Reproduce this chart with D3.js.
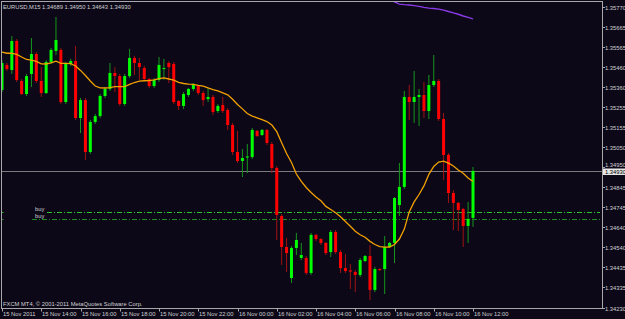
<!DOCTYPE html>
<html>
<head>
<meta charset="utf-8">
<script src="https://cdn.jsdelivr.net/npm/d3@7/dist/d3.min.js"></script>
<style>
  body { margin: 0; background: #0c0818; }
  svg { display: block; }
  text { font-family: "Liberation Sans", Arial, sans-serif; font-size: 5.8px; fill: #d0d0d0; }
</style>
</head>
<body>
<div id="chart"></div>
<script>
// EURUSD M15 candles, 15 Nov 2011 12:00 .. 16 Nov 2011 12:00
var open = [
  1.35345,1.35473,1.35447,1.35596,1.35391,1.35324,1.35427,1.35529,1.35391,1.35329,
  1.35488,1.35545,1.35550,1.35283,1.35478,1.35493,1.35201,1.35293,1.35027,1.35181,
  1.35211,1.35314,1.35350,1.35432,1.35416,1.35273,1.35416,1.35509,1.35483,1.35457,
  1.35401,1.35365,1.35396,1.35452,1.35483,1.35478,1.35288,1.35263,1.35319,1.35350,
  1.35365,1.35329,1.35298,1.35309,1.35237,1.35268,1.35242,1.35165,1.35027,1.34981,
  1.34999,1.35001,1.35135,1.35114,1.35140,1.35068,1.34945,1.34699,1.34540,1.34381,
  1.34535,1.34484,1.34484,1.34407,1.34602,1.34581,1.34561,1.34514,1.34617,1.34514,
  1.34432,1.34420,1.34412,1.34397,1.34468,1.34494,1.34320,1.34427,1.34427,1.34540,
  1.34561,1.34755,1.34848,1.35309,1.35283,1.35309,1.35319,1.35237,1.35370,1.35391,
  1.35196,1.35012,1.34817,1.34766,1.34735,1.34648,1.34689];
var high = [
  1.35498,1.35483,1.35621,1.35606,1.35401,1.35427,1.35611,1.35539,1.35462,1.35498,
  1.35560,1.35719,1.35560,1.35488,1.35504,1.35570,1.35304,1.35304,1.35191,1.35222,
  1.35324,1.35360,1.35483,1.35462,1.35427,1.35427,1.35555,1.35519,1.35509,1.35468,
  1.35406,1.35406,1.35514,1.35504,1.35493,1.35488,1.35293,1.35334,1.35355,1.35380,
  1.35370,1.35340,1.35355,1.35319,1.35273,1.35309,1.35252,1.35176,1.35135,1.35042,
  1.35068,1.35150,1.35140,1.35145,1.35145,1.35078,1.34955,1.34709,1.34586,1.34545,
  1.34612,1.34561,1.34494,1.34612,1.34607,1.34586,1.34566,1.34627,1.34627,1.34525,
  1.34504,1.34453,1.34422,1.34484,1.34499,1.34550,1.34438,1.34432,1.34596,1.34566,
  1.34796,1.34971,1.35340,1.35370,1.35442,1.35350,1.35386,1.35422,1.35524,1.35401,
  1.35227,1.35022,1.34832,1.34771,1.34740,1.34771,1.34950];
var low = [
  1.35334,1.35442,1.35427,1.35386,1.35319,1.35314,1.35360,1.35380,1.35309,1.35324,
  1.35478,1.35524,1.35273,1.35273,1.35468,1.35191,1.35124,1.34986,1.35017,1.35170,
  1.35201,1.35304,1.35340,1.35334,1.35263,1.35263,1.35406,1.35422,1.35396,1.35391,
  1.35355,1.35355,1.35386,1.35396,1.35380,1.35273,1.35242,1.35247,1.35309,1.35340,
  1.35319,1.35263,1.35283,1.35216,1.35227,1.35227,1.35140,1.35012,1.34971,1.34899,
  1.34919,1.34991,1.35104,1.35109,1.35063,1.34919,1.34576,1.34448,1.34412,1.34356,
  1.34499,1.34473,1.34397,1.34397,1.34571,1.34550,1.34499,1.34489,1.34504,1.34407,
  1.34407,1.34325,1.34309,1.34386,1.34463,1.34268,1.34309,1.34417,1.34299,1.34535,
  1.34458,1.34699,1.34837,1.35191,1.35176,1.35160,1.35201,1.35196,1.35360,1.35186,
  1.34883,1.34766,1.34627,1.34622,1.34540,1.34561,1.34643];
var close = [
  1.35483,1.35452,1.35596,1.35396,1.35324,1.35416,1.35529,1.35391,1.35329,1.35488,
  1.35550,1.35601,1.35283,1.35478,1.35493,1.35201,1.35293,1.35027,1.35181,1.35211,
  1.35314,1.35350,1.35432,1.35416,1.35273,1.35416,1.35509,1.35483,1.35462,1.35401,
  1.35365,1.35396,1.35473,1.35457,1.35462,1.35283,1.35263,1.35324,1.35350,1.35375,
  1.35329,1.35293,1.35309,1.35232,1.35263,1.35237,1.35165,1.35027,1.34981,1.34996,
  1.35004,1.35140,1.35109,1.35140,1.35073,1.34945,1.34704,1.34540,1.34509,1.34535,
  1.34576,1.34499,1.34407,1.34602,1.34581,1.34561,1.34509,1.34617,1.34514,1.34432,
  1.34417,1.34414,1.34397,1.34473,1.34494,1.34320,1.34427,1.34422,1.34540,1.34561,
  1.34791,1.34848,1.35309,1.35283,1.35309,1.35319,1.35237,1.35370,1.35391,1.35196,
  1.35012,1.34817,1.34766,1.34730,1.34648,1.34684,1.34930];

// orange moving average, one value per bar
var ma = [
  1.35539,1.35533,1.35533,1.35527,1.35514,1.35501,1.35498,1.35491,1.35479,1.35478,
  1.35484,1.35492,1.35481,1.35481,1.35480,1.35468,1.35445,1.35419,1.35391,1.35365,
  1.35356,1.35355,1.35357,1.35362,1.35362,1.35362,1.35373,1.35383,1.35390,1.35392,
  1.35393,1.35397,1.35403,1.35407,1.35401,1.35395,1.35384,1.35378,1.35375,1.35373,
  1.35368,1.35364,1.35355,1.35347,1.35340,1.35330,1.35320,1.35297,1.35270,1.35248,
  1.35224,1.35211,1.35202,1.35193,1.35183,1.35165,1.35131,1.35074,1.35019,1.34973,
  1.34914,1.34876,1.34845,1.34819,1.34796,1.34777,1.34748,1.34732,1.34716,1.34695,
  1.34671,1.34646,1.34621,1.34603,1.34590,1.34569,1.34553,1.34542,1.34539,1.34540,
  1.34553,1.34581,1.34632,1.34719,1.34771,1.34809,1.34853,1.34912,1.34953,1.34975,
  1.34980,1.34970,1.34955,1.34935,1.34918,1.34894,1.34876];

// purple line, only visible near the top from bar 79 on
var slowStart = 79;
var slow = [1.35810,1.35796,1.35785,1.35782,1.35780,1.35777,1.35773,1.35768,1.35764,
  1.35762,1.35759,1.35754,1.35747,1.35740,1.35733,1.35724,1.35717,1.35709];

var buyLevels = [1.34718, 1.34682];
var bid = 1.34930;

var priceTicks = ["1.35770","1.35665","1.35565","1.35460","1.35360","1.35255","1.35155","1.35050",
  "1.34950","1.34845","1.34745","1.34640","1.34540","1.34435","1.34335","1.34230"];
var timeTickBars = [0, 8, 16, 24, 32, 40, 48, 56, 64, 72, 80, 88, 96];
var timeTickLabels = ["15 Nov 2011","15 Nov 14:00","15 Nov 16:00","15 Nov 18:00","15 Nov 20:00",
  "15 Nov 22:00","16 Nov 00:00","16 Nov 02:00","16 Nov 04:00","16 Nov 06:00","16 Nov 08:00",
  "16 Nov 10:00","16 Nov 12:00"];

var W = 625, H = 319;
// plot frame edges (names avoid window.top)
var fL = 1.5, fT = 1.5, fR = 602.5, fB = 308.5;

var svg = d3.select('#chart').append('svg').attr('width', W).attr('height', H);
svg.append('rect').attr('width', W).attr('height', H).attr('fill', '#0c0818');

var x = d3.scaleLinear().domain([0, 96]).range([2, 473]);
var y = d3.scaleLinear().domain([1.34230, 1.35770]).range([307.5, 7]);

svg.append('clipPath').attr('id', 'plot')
  .append('rect').attr('x', fL).attr('y', fT).attr('width', fR - fL).attr('height', fB - fT);
var plot = svg.append('g').attr('clip-path', 'url(#plot)');

// bid line
var by = Math.round(y(bid)) + 0.5;
plot.append('line')
  .attr('x1', fL).attr('x2', fR).attr('y1', by).attr('y2', by)
  .attr('stroke', '#7a7a7a').attr('stroke-width', 1);

// buy lines
var buyColors = ['#2fc02f', '#1e8e1e'];
var buyStart = [47, 32];
buyLevels.forEach(function(v, k) {
  var yy = Math.round(y(v)) + 0.5;
  plot.append('line').attr('x1', 1.5).attr('x2', 3.5).attr('y1', yy).attr('y2', yy)
    .attr('stroke', buyColors[k]);
  plot.append('line').attr('x1', buyStart[k]).attr('x2', 600).attr('y1', yy).attr('y2', yy)
    .attr('stroke', buyColors[k]).attr('stroke-dasharray', '5,2,1,2');
  svg.append('text').attr('x', 35).attr('y', yy - 2).text('buy');
});

// candles
var bars = d3.range(open.length);
var up = function(i) { return close[i] >= open[i]; };

plot.selectAll('line.wick').data(bars).enter().append('line')
  .attr('class', 'wick')
  .attr('x1', function(i) { return x(i); }).attr('x2', function(i) { return x(i); })
  .attr('y1', function(i) { return y(high[i]); }).attr('y2', function(i) { return y(low[i]); })
  .attr('stroke', function(i) { return up(i) ? '#15951a' : '#a01212'; })
  .attr('stroke-width', 1);

plot.selectAll('rect.body').data(bars).enter().append('rect')
  .attr('class', 'body')
  .attr('x', function(i) { return x(i) - 1.5; })
  .attr('width', 3)
  .attr('y', function(i) { return y(Math.max(open[i], close[i])); })
  .attr('height', function(i) { return Math.max(1, Math.abs(y(open[i]) - y(close[i]))); })
  .attr('fill', function(i) { return up(i) ? '#00ff00' : '#ff0000'; });

// moving averages
var line = d3.line().x(function(d) { return x(d[0]); }).y(function(d) { return y(d[1]); });
plot.append('path')
  .datum(ma.map(function(v, i) { return [i, v]; }))
  .attr('d', line).attr('fill', 'none').attr('stroke', '#f2a000').attr('stroke-width', 1.3);
plot.append('path')
  .datum(slow.map(function(v, k) { return [slowStart + k, v]; }))
  .attr('d', line).attr('fill', 'none').attr('stroke', '#8a3ae8').attr('stroke-width', 1.4);

// frame
svg.append('rect')
  .attr('x', fL).attr('y', fT).attr('width', fR - fL).attr('height', fB - fT)
  .attr('fill', 'none').attr('stroke', '#a8a8a8').attr('stroke-width', 1);

// price axis
priceTicks.forEach(function(t) {
  var yy = Math.round(y(+t)) + 0.5;
  svg.append('line').attr('x1', fR).attr('x2', fR + 2.5).attr('y1', yy).attr('y2', yy)
    .attr('stroke', '#a8a8a8');
  // the 1.34950 label sits just above the bid box
  var ty = (t === '1.34950') ? yy - 1 : yy + 2;
  svg.append('text').attr('x', 605).attr('y', ty).text(t);
});

// current price label
svg.append('rect').attr('x', 603).attr('y', by - 3).attr('width', 22).attr('height', 6.5)
  .attr('fill', '#e6e6e6');
svg.append('text').attr('x', 605).attr('y', by + 2).style('fill', '#000').text(bid.toFixed(5));

// time axis
timeTickBars.forEach(function(b, k) {
  var xx = Math.round(x(b)) + 0.5;
  svg.append('line').attr('x1', xx).attr('x2', xx).attr('y1', fB).attr('y2', fB + 3)
    .attr('stroke', '#a8a8a8');
  svg.append('text').attr('x', xx + 0.5).attr('y', 315.5).text(timeTickLabels[k]);
});

// header and copyright
svg.append('text').attr('x', 3).attr('y', 9)
  .text('EURUSD,M15  ' + [open[96], high[96], low[96], close[96]].map(function(v) { return v.toFixed(5); }).join(' '));
svg.append('text').attr('x', 3).attr('y', 306).text('FXCM MT4, \u00a9 2001-2011 MetaQuotes Software Corp.');
</script>
</body>
</html>
